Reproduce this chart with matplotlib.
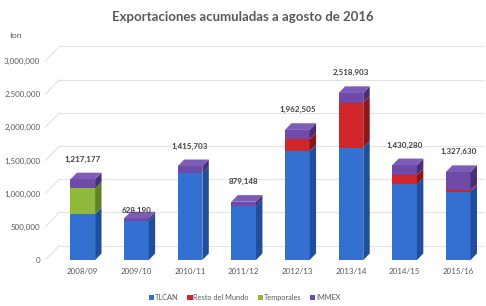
import matplotlib.pyplot as plt
from matplotlib.patches import Polygon
import numpy as np

plt.rcParams["font.family"] = ["Lato", "DejaVu Sans"]

years = ["2008/09", "2009/10", "2010/11", "2011/12", "2012/13", "2013/14", "2014/15", "2015/16"]
totals = [1217177, 628190, 1415703, 879148, 1962505, 2518903, 1430280, 1327630]
tlcan = [690000, 590000, 1310000, 810000, 1640000, 1690000, 1140000, 1030000]
resto = [0, 0, 0, 0, 180000, 680000, 140000, 20000]
temporales = [390000, 0, 0, 0, 0, 0, 0, 0]
# IMMEX is what is left up to the total
immex = [t - a - b - c for t, a, b, c in zip(totals, tlcan, resto, temporales)]

series = [
    ("TLCAN", tlcan, "#3370cf", "#1f4f9c"),
    ("Resto del Mundo", resto, "#d0262a", "#8e1619"),
    ("Temporales", temporales, "#8fb83c", "#5f8224"),
    ("IMMEX", immex, "#6f4aa8", "#4a2f78"),
]

fig = plt.figure(figsize=(4.86, 3.06), dpi=100)
ax = fig.add_axes([0.093, 0.150, 0.905, 0.735])
ax.set_xlim(-0.7, 7.5)
ax.set_ylim(0, 3.39e6)
for s in ax.spines.values():
    s.set_visible(False)
ax.tick_params(length=0, labelsize=5.8, labelcolor="#595959")

# depth of the 3D look, in data units
dx = 0.12
dy = 1.0e5
x = np.arange(len(years))
w = 0.46

# back wall gridlines with diagonal connectors
for v in np.arange(0, 3.01e6, 5e5):
    ax.plot([-0.7, -0.7 + 2.2 * dx], [v, v + 2.2 * dy], color="#d9d9d9", lw=0.6, zorder=0)
    ax.plot([-0.7 + 2.2 * dx, 7.5], [v + 2.2 * dy, v + 2.2 * dy], color="#e3e3e3", lw=0.8, zorder=0)
ax.set_yticks(np.arange(0, 3.01e6, 5e5))
ax.set_yticklabels([f"{int(v):,}" for v in np.arange(0, 3.01e6, 5e5)])
ax.set_xticks(x)
ax.set_xticklabels(years)
ax.tick_params(axis="x", pad=6)

bottom = np.zeros(len(years))
for name, vals, col, dark in series:
    vals = np.array(vals, dtype=float)
    ax.bar(x, vals, w, bottom=bottom, color=col, label=name, zorder=3)
    for i in range(len(x)):
        if vals[i] <= 0:
            continue
        x1 = x[i] + w / 2
        y0, y1 = bottom[i], bottom[i] + vals[i]
        ax.add_patch(Polygon([[x1, y0], [x1 + dx, y0 + dy], [x1 + dx, y1 + dy], [x1, y1]],
                             closed=True, color=dark, lw=0, zorder=3))
    bottom += vals

# top faces
for i in range(len(x)):
    x0, x1 = x[i] - w / 2, x[i] + w / 2
    t = bottom[i]
    ax.add_patch(Polygon([[x0, t], [x0 + dx, t + dy], [x1 + dx, t + dy], [x1, t]],
                         closed=True, color="#7d5cb8", lw=0, zorder=4))

for i, t in enumerate(totals):
    off = 0.6e5 if i == 1 else 2.5e5
    ax.text(x[i], t + off, f"{t:,}", ha="center", va="bottom", fontsize=5.8,
            fontweight="bold", color="#404040", zorder=5)

fig.text(0.5, 0.945, "Exportaciones acumuladas a agosto de 2016", ha="center", va="center",
         fontsize=9.5, fontweight="bold", color="#595959")
fig.text(0.02, 0.885, "ton", ha="left", va="center", fontsize=6, color="#595959")

ax.legend(loc="center", bbox_to_anchor=(0.5 - 0.093 / 2, -0.165), ncol=4, frameon=False,
          fontsize=5.3, handlelength=0.7, handleheight=0.7, handletextpad=0.1,
          columnspacing=1.2, labelcolor="#595959")

fig.savefig("out.png", dpi=100)
